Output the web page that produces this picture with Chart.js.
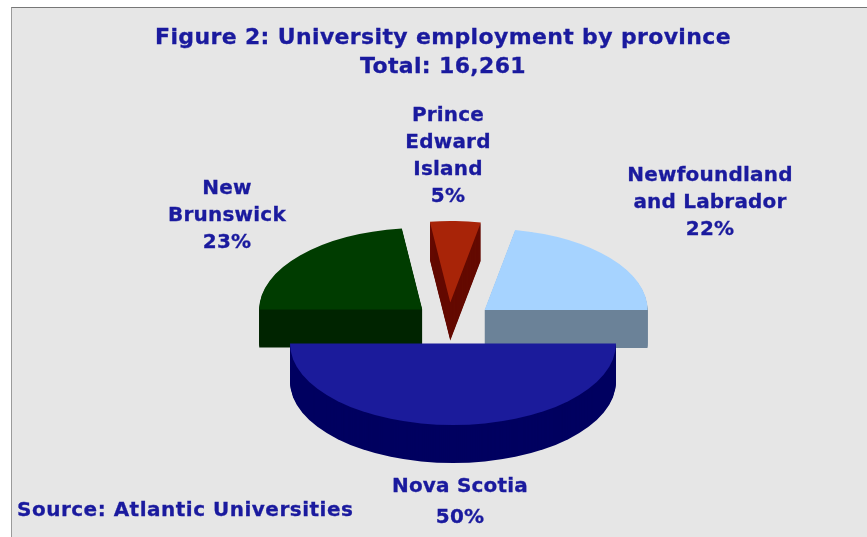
<!DOCTYPE html>
<html>
<head>
<meta charset="utf-8">
<title>University employment by province</title>
<script src="https://cdn.jsdelivr.net/npm/chart.js@4"></script>
<style>
    body { margin: 0; background: #ffffff; }
    #panel {
        position: absolute; left: 11px; top: 7px; width: 856px; height: 530px;
        background: #e6e6e6; border-top: 1px solid #777777; border-left: 1px solid #9a9a9a;
        box-sizing: border-box;
    }
    #oilChart { position: absolute; left: 0; top: 0; }
</style>
</head>
<body>
<div id="panel"></div>
<canvas id="oilChart" width="867" height="537"></canvas>
<script>
// Datos de la figura
var titleLines = ['Figure 2: University employment by province', 'Total: 16,261'];
var sourceNote = 'Source: Atlantic Universities';
var provinces = ['Nova Scotia', 'New Brunswick', 'Prince Edward Island', 'Newfoundland and Labrador'];
var shares = [50, 23, 5, 22];
var labelLines = [['Nova Scotia'], ['New', 'Brunswick'], ['Prince', 'Edward', 'Island'], ['Newfoundland', 'and Labrador']];

var topColors = ['#1b1b9b', '#003c00', '#a82408', '#a6d3ff'];
var sideColors = ['#000060', '#002400', '#640a00', '#6b8298'];

// Look of the tilted pie
var squash = 0.5;
var depth = 38;
var explode = 41;
var sideNudge = [0, 0, -4, 0];
var textColor = '#1a1a9e';

// Label placement, [centre x, y of first line, line height]
var labelSpots = [[460, 487, 31], [227, 189, 27], [448, 116, 27], [710, 176, 27]];

function pieCenterY(chart) {
    return (chart.chartArea.top + chart.chartArea.bottom) / 2;
}

// Filled text with a thin outline, the bold face alone looks too light
function heavyText(ctx, text, x, y) {
    ctx.fillText(text, x, y);
    ctx.strokeText(text, x, y);
}

var tiltedPie = {
    id: 'tiltedPie',
    // Pull the slices away from the centre
    afterDatasetsUpdate: function(chart) {
        chart.getDatasetMeta(0).data.forEach(function(arc, i) {
            var mid = (arc.startAngle + arc.endAngle) / 2;
            arc.x = (chart.chartArea.left + chart.chartArea.right) / 2 + Math.cos(mid) * explode + sideNudge[i];
            arc.y = pieCenterY(chart) + Math.sin(mid) * explode;
        });
    },
    beforeDatasetsDraw: function(chart) {
        var ctx = chart.ctx;
        var cy = pieCenterY(chart);
        var arcs = chart.getDatasetMeta(0).data;

        // Side walls, back slices first so Nova Scotia stays in front
        for (var i = arcs.length - 1; i >= 0; i--) {
            var arc = arcs[i];
            var sy = cy + (arc.y - cy) * squash;
            ctx.fillStyle = sideColors[i];
            for (var dy = depth; dy > 0; dy--) {
                ctx.beginPath();
                ctx.moveTo(arc.x, sy + dy);
                ctx.ellipse(arc.x, sy + dy, arc.outerRadius, arc.outerRadius * squash, 0, arc.startAngle, arc.endAngle);
                ctx.closePath();
                ctx.fill();
            }
        }

        // Top faces get drawn by the chart inside this transform
        ctx.save();
        ctx.translate(0, cy);
        ctx.scale(1, squash);
        ctx.translate(0, -cy);
    },
    afterDatasetsDraw: function(chart) {
        var ctx = chart.ctx;
        ctx.restore();

        ctx.save();
        ctx.fillStyle = textColor;
        ctx.strokeStyle = textColor;
        ctx.lineWidth = 0.3;
        ctx.textAlign = 'center';
        ctx.textBaseline = 'middle';

        ctx.font = 'bold 22px "DejaVu Sans"';
        ctx.letterSpacing = '0.35px';
        heavyText(ctx, titleLines[0], 443, 38);
        heavyText(ctx, titleLines[1], 443, 67);

        ctx.font = 'bold 20px "DejaVu Sans"';
        ctx.letterSpacing = '0.2px';
        labelLines.forEach(function(lines, i) {
            var spot = labelSpots[i];
            var all = lines.concat(shares[i] + '%');
            all.forEach(function(line, n) {
                heavyText(ctx, line, spot[0], spot[1] + n * spot[2]);
            });
        });

        ctx.letterSpacing = '0.5px';
        ctx.textAlign = 'left';
        heavyText(ctx, sourceNote, 17, 511);
        ctx.restore();
    }
};

new Chart(document.getElementById('oilChart').getContext('2d'), {
    type: 'pie',
    data: {
        labels: provinces,
        datasets: [{
            data: shares,
            backgroundColor: topColors,
            borderWidth: 0,
            radius: 163,
            clip: false
        }]
    },
    options: {
        responsive: false,
        animation: false,
        rotation: 90,
        layout: { padding: { left: 39, top: 109 } },
        plugins: {
            legend: { display: false },
            tooltip: { enabled: false }
        }
    },
    plugins: [tiltedPie]
});
</script>
</body>
</html>
